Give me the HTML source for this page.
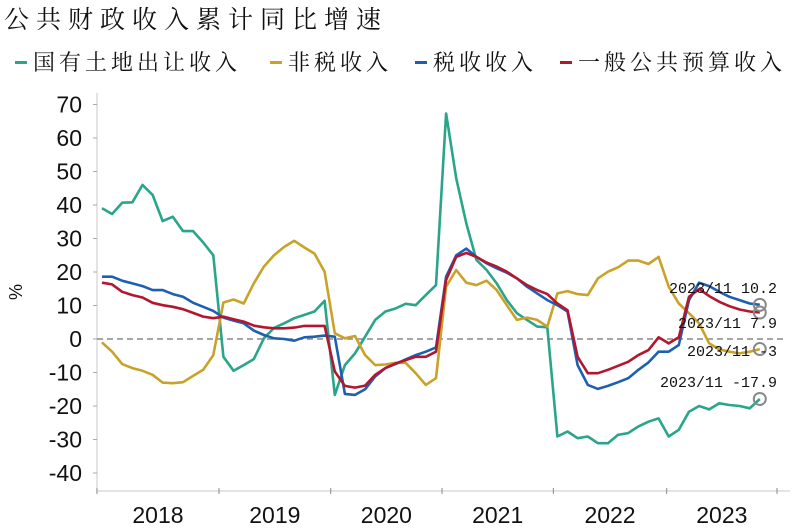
<!DOCTYPE html>
<html><head><meta charset="utf-8">
<style>
body{margin:0;background:#fff;width:798px;height:529px;overflow:hidden}
svg{display:block}
.cjk{font-family:"Liberation Serif","Noto Serif CJK SC",serif}
</style></head>
<body>
<svg id="chart" width="798" height="529">
<text x="4" y="28" class="cjk" font-size="25" letter-spacing="7" fill="#111">公共财政收入累计同比增速</text>
<g id="legend"></g>
<g id="axes"></g>
<g id="series"></g>
<g id="notes"></g>
</svg>
<script>
const seriesNames=["国有土地出让收入","非税收入","税收收入","一般公共预算收入"];
const seriesColors=["#2aa58a","#c9a229","#1f5fb0","#b3162f"];
const landValues=[39,37.3,40.7,40.8,46,43,35.2,36.5,32.2,32.2,28.8,25,-5.3,-9.5,-7.8,-6,0.2,3.3,4.7,6.2,7.2,8.2,11.4,-16.7,-7.8,-4.3,0.7,5.7,8.2,9.1,10.5,10.1,13.1,16.1,67.3,48,34.5,23.6,20.6,16.6,11.6,7.7,5.7,3.7,3.5,-29.1,-27.6,-29.6,-29.1,-31.1,-31.1,-28.6,-28.1,-26.1,-24.7,-23.7,-29.1,-27.1,-21.7,-20,-21,-19.2,-19.7,-20,-20.7,-17.9];
const nontaxValues=[-1,-3.8,-7.5,-8.7,-9.5,-10.7,-13,-13.2,-12.9,-11,-9.2,-4.8,10.9,11.8,10.6,16.6,21.6,25,27.5,29.3,27.3,25.5,20.1,1.7,0.2,0.9,-4.8,-7.8,-7.6,-7.1,-7.1,-10.2,-13.7,-11.7,15.6,20.6,16.8,16.1,17.4,14.6,10.1,5.7,6.4,5.7,3.7,13.6,14.3,13.4,13.1,18.1,20.1,21.4,23.4,23.4,22.4,24.5,15.6,10.6,7.7,4.7,-1.3,-3.1,-3.8,-4.3,-3.8,-3];
const taxValues=[18.6,18.6,17.4,16.6,15.8,14.6,14.6,13.4,12.6,10.8,9.6,8.4,6.4,5.5,4.7,2.5,1.2,0.2,0,-0.5,0.5,0.7,1,0.7,-16.4,-16.7,-15,-11.2,-8.7,-7.5,-6.1,-4.8,-3.8,-2.5,18.6,25,27,24.5,22.6,21.1,19.8,18.1,15.6,13.6,11.6,10.1,8.2,-7.8,-13.7,-14.9,-14,-12.9,-11.7,-9.2,-7,-3.8,-3.8,-1.8,11.6,16.8,15.8,14.1,12.6,11.6,10.6,10.2];
const generalValues=[16.8,16.3,14.1,13.1,12.4,10.8,10.1,9.6,8.9,7.8,6.7,6.2,6.7,5.9,5.2,4,3.5,3.2,3.2,3.4,3.9,3.9,3.9,-9.7,-14,-14.5,-13.9,-10.7,-8.7,-7.3,-6.3,-5.3,-5.3,-3.8,17.6,24.5,25.7,24.5,22.8,21.6,20.1,18.1,16.1,14.6,13.4,10.6,8.6,-5.3,-10.2,-10.2,-9.2,-8,-6.8,-4.8,-3.3,0.5,-1.3,0.5,12.6,14.9,12.8,11.1,9.8,8.8,8.2,7.9];
const yTicks=[70,60,50,40,30,20,10,0,-10,-20,-30,-40];
const yearLabels=["2018","2019","2020","2021","2022","2023"];
const yearBounds=[-0.5,11.56,22.6,33.6,44.6,55.8,66.7];
const noteLabels=["2023/11 10.2","2023/11 7.9","2023/11 -3","2023/11 -17.9"];

const NS="http://www.w3.org/2000/svg";
const X0=102,DX=10.12,Y0=339,KY=3.35;
const xs=i=>X0+i*DX;
const ys=v=>Y0-v*KY;
function mk(tag,attrs,parent){const e=document.createElementNS(NS,tag);for(const k in attrs)e.setAttribute(k,attrs[k]);parent.appendChild(e);return e;}
const axes=document.getElementById('axes');
let yl=mk('line',{x1:97,y1:93,x2:97,y2:490,stroke:'#c8c8c8','stroke-width':1},axes);


yTicks.forEach(v=>{
  const t=mk('line',{x1:93,x2:97,y1:ys(v),y2:ys(v),stroke:'#aaa'},axes);
  
  
  const l=mk('text',{x:82,y:ys(v)+8,'text-anchor':'end','font-size':23,'font-family':'Liberation Sans, sans-serif',fill:'#111'},axes);
  l.textContent=v;
  
  
});
const yt=mk('text',{x:0,y:0,transform:'translate(22,292) rotate(-90)','text-anchor':'middle','font-size':18,'font-family':'Liberation Sans, sans-serif',fill:'#111'},axes);
yt.textContent='%';


const zl=mk('line',{x1:97,x2:785,y1:ys(0),y2:ys(0),stroke:'#888','stroke-width':1.5,'stroke-dasharray':'6,4'},axes);


const xl=mk('line',{x1:97,x2:790,y1:491,y2:491,stroke:'#c8c8c8'},axes);


yearBounds.forEach(b=>{
  const t=mk('line',{x1:xs(b),x2:xs(b),y1:488,y2:494,stroke:'#888'},axes);
  
  
});
yearLabels.forEach((y,i)=>{
  const l=mk('text',{x:(xs(yearBounds[i])+xs(yearBounds[i+1]))/2,y:523,'text-anchor':'middle','font-size':23,'font-family':'Liberation Sans, sans-serif',fill:'#111'},axes);
  l.textContent=y;
  
  
});
const allSeries=[landValues,nontaxValues,taxValues,generalValues];
const sg=document.getElementById('series');
const seriesKeys=['land-transfer-line','non-tax-line','tax-line','general-budget-line'];
allSeries.forEach((vals,s)=>{
  const d=vals.map((v,i)=>(i?'L':'M')+xs(i).toFixed(1)+','+ys(v).toFixed(1)).join('');
  const p=mk('path',{d:d,fill:'none',stroke:seriesColors[s],'stroke-width':2.6,'stroke-linejoin':'round'},sg);
  
  
});
const lg=document.getElementById('legend');
const legX=[15,270,415,560];
seriesNames.forEach((n,i)=>{
  const r=mk('rect',{x:legX[i],y:61,width:12,height:3,fill:seriesColors[i]},lg);
  
  
  const t=mk('text',{x:legX[i]+18,y:70,'font-size':22,'letter-spacing':4,'font-family':'Liberation Serif, Noto Serif CJK SC, serif',fill:'#111'},lg);
  t.textContent=n;
  
  
});
const ng=document.getElementById('notes');
const last=landValues.length-1;
const noteVals=[taxValues[last],generalValues[last],nontaxValues[last],landValues[last]];
const noteY=[293,328,356,387];
noteVals.forEach((v,i)=>{
  const c=mk('circle',{cx:xs(last),cy:ys(v),r:6,fill:'none',stroke:'#888','stroke-width':2},ng);
  
  
  const t=mk('text',{x:777,y:noteY[i],'text-anchor':'end','font-size':15,'font-family':'Liberation Mono, Noto Sans CJK SC, monospace',fill:'#111'},ng);
  t.textContent=noteLabels[i];
  
  
});
</script>
</body></html>
